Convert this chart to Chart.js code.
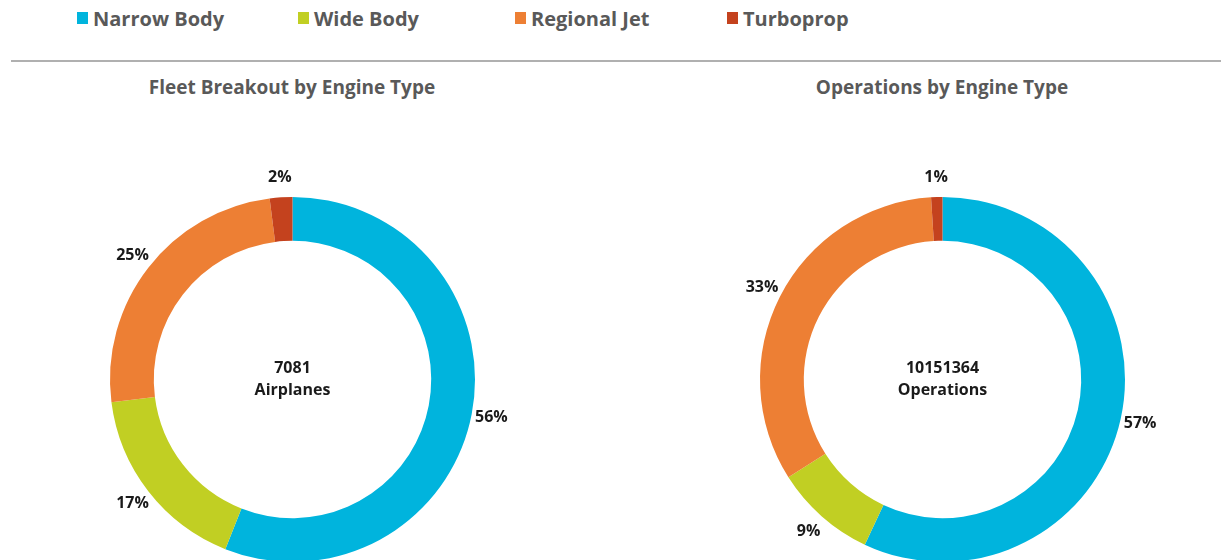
<!DOCTYPE html>
<html>
<head>
<meta charset="utf-8">
<script src="https://cdn.jsdelivr.net/npm/chart.js@4.4.1/dist/chart.umd.min.js"></script>
<style>
  html, body { margin: 0; padding: 0; background: #fff; }
  body { width: 1221px; height: 560px; overflow: hidden; position: relative; font-family: "Open Sans", sans-serif; }
  .legend-item { position: absolute; top: 4px; height: 28px; display: flex; align-items: center; color: #595959; font-weight: bold; font-size: 20px; white-space: nowrap; }
  .legend-box { width: 11px; height: 12px; margin-right: 5px; }
  .rule { position: absolute; left: 11px; top: 60px; width: 1210px; height: 2px; background: #b0b0b0; }
  .title { position: absolute; top: 74px; width: 500px; text-align: center; color: #595959; font-weight: bold; font-size: 19px; }
  canvas { position: absolute; top: 0; }
</style>
</head>
<body>
<div id="legend"></div>
<div class="rule"></div>
<div class="title" id="title1" style="left:42px"></div>
<div class="title" id="title2" style="left:692px"></div>
<canvas id="fleet-chart" width="585" height="600" style="left:0px"></canvas>
<canvas id="ops-chart" width="585" height="600" style="left:636px"></canvas>
<script>
// chart data
const categories = ['Narrow Body', 'Wide Body', 'Regional Jet', 'Turboprop'];
const colors = ['#00B4DD', '#C1CF23', '#ED7F34', '#C4421E'];
const fleetPercent = [56, 17, 25, 2];
const opsPercent = [57, 9, 33, 1];
const fleetTotal = '7081';
const opsTotal = '10151364';
const chartTitles = ['Fleet Breakout by Engine Type', 'Operations by Engine Type'];
const centerLabels = ['Airplanes', 'Operations'];

// shared legend across the top
const legendX = [77, 298, 515, 727];
const legendEl = document.getElementById('legend');
categories.forEach((cat, i) => {
    const item = document.createElement('div');
    item.className = 'legend-item';
    item.style.left = legendX[i] + 'px';
    item.innerHTML = '<div class="legend-box" style="background:' + colors[i] + '"></div>' + cat;
    legendEl.appendChild(item);
});
document.getElementById('title1').textContent = chartTitles[0];
document.getElementById('title2').textContent = chartTitles[1];

// percent labels outside the ring + total in the hole
const donutTextPlugin = {
    id: 'donutText',
    afterDraw: function(chart) {
        const ctx = chart.ctx;
        const meta = chart.getDatasetMeta(0);
        ctx.save();
        ctx.fillStyle = '#1a1a1a';
        ctx.font = 'bold 16px "Open Sans"';
        ctx.textAlign = 'center';
        ctx.textBaseline = 'middle';
        meta.data.forEach((arc, i) => {
            const mid = (arc.startAngle + arc.endAngle) / 2;
            const r = arc.outerRadius + 20;
            const x = arc.x + Math.cos(mid) * r;
            const y = arc.y + Math.sin(mid) * r;
            ctx.fillText(chart.data.datasets[0].data[i] + '%', x, y);
        });
        const c = meta.data[0];
        const lines = chart.options.plugins.donutText.lines;
        ctx.fillText(lines[0], c.x, c.y - 11);
        ctx.fillText(lines[1], c.x, c.y + 11);
        ctx.restore();
    }
};

function makeDonut(id, values, lines, padding) {
    return new Chart(document.getElementById(id), {
        type: 'doughnut',
        data: {
            labels: categories,
            datasets: [{
                data: values,
                backgroundColor: colors,
                borderWidth: 0
            }]
        },
        options: {
            responsive: false,
            animation: false,
            cutout: '76%',
            layout: { padding: padding },
            plugins: {
                legend: { display: false },
                tooltip: { enabled: false },
                donutText: { lines: lines }
            }
        },
        plugins: [donutTextPlugin]
    });
}

makeDonut('fleet-chart', fleetPercent, [fleetTotal, centerLabels[0]], { top: 197, left: 110, right: 110, bottom: 38 });
makeDonut('ops-chart', opsPercent, [opsTotal, centerLabels[1]], { top: 197, left: 124, right: 96, bottom: 38 });
</script>
</body>
</html>
